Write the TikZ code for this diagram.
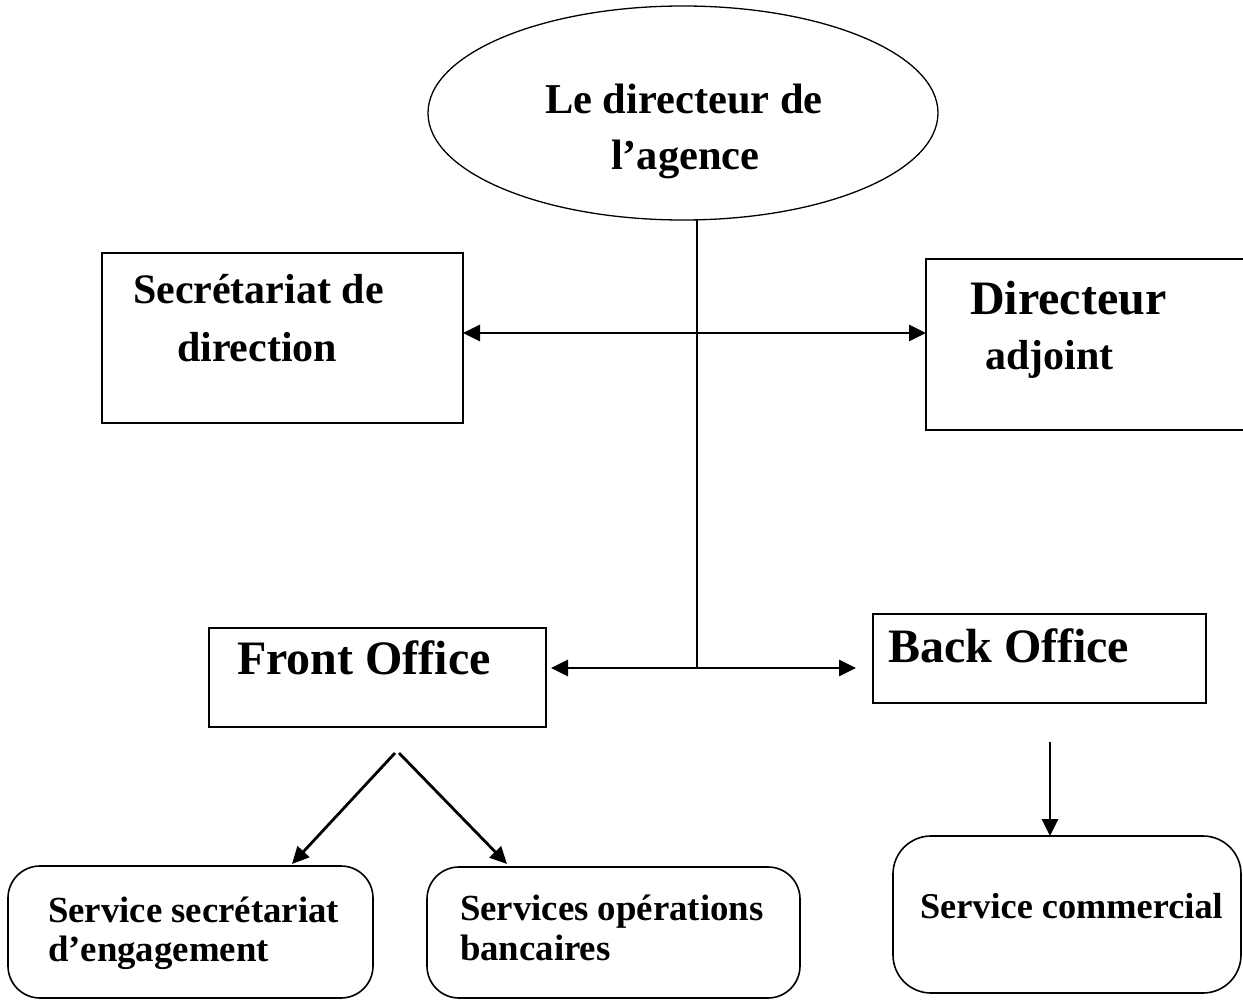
\documentclass[tikz,border=0pt]{standalone}
\usepackage{fontspec}
\setmainfont{Liberation Serif}
\usetikzlibrary{arrows.meta,shapes.geometric,calc}
\begin{document}
\begin{tikzpicture}[x=1pt,y=-1pt,
  frame/.style={draw,line width=1.6pt,inner sep=0pt,outer sep=0pt},
  rbox/.style={frame,rounded corners=32pt},
  lbl/.style={anchor=base west,inner sep=0pt,outer sep=0pt,font=\bfseries},
  big/.style={lbl,font=\bfseries\fontsize{48}{56}\selectfont},
  mid/.style={lbl,font=\bfseries\fontsize{42}{56}\selectfont},
  small/.style={lbl,font=\bfseries\fontsize{36.8}{44}\selectfont},
  conn/.style={line width=2pt},
  tip/.style={line width=2.8pt,-{Triangle[length=17pt,width=16pt]}},
  dtip/.style={line width=2.8pt,{Triangle[length=17pt,width=16pt]}-{Triangle[length=17pt,width=16pt]}}
]
\clip (0,0) rectangle (1243,1000);
\fill[white] (0,0) rectangle (1243,1000);

% Head of the agency
\node[ellipse,frame,line width=1.3pt,minimum width=510pt,minimum height=214pt] (dir) at (683,113) {};
\node[mid,font=\bfseries\fontsize{42.5}{56}\selectfont] (dirA) at (545,114) {Le directeur de};
\node[mid,font=\bfseries\fontsize{42.5}{56}\selectfont] (dirB) at (611,170) {l’agence};

% Second level
\node[frame,minimum width=361pt,minimum height=170pt] (sec) at (282.5,338) {};
\node[mid] (secA) at (133,304) {Secrétariat de};
\node[mid] (secB) at (177,362) {direction};

\node[frame,minimum width=334pt,minimum height=171pt] (adj) at (1093,344.5) {};
\node[big] (adjA) at (970,315) {Directeur};
\node[mid] (adjB) at (985,370) {adjoint};

% Offices
\node[frame,minimum width=337pt,minimum height=99pt] (front) at (377.5,677.5) {};
\node[big] (frontA) at (237,674) {Front Office};

\node[frame,minimum width=333pt,minimum height=89pt] (back) at (1039.5,658.5) {};
\node[big] (backA) at (888,662) {Back Office};

% Services
\node[rbox,minimum width=365pt,minimum height=132pt] (ssec) at (190.5,932) {};
\node[small] (ssecA) at (48,922) {Service secrétariat};
\node[small] (ssecB) at (48,961) {d’engagement};

\node[rbox,minimum width=373pt,minimum height=131pt] (sop) at (613.5,932.5) {};
\node[small] (sopA) at (460,920) {Services opérations};
\node[small] (sopB) at (460,960) {bancaires};

\node[rbox,rounded corners=38pt,minimum width=348pt,minimum height=157pt] (com) at (1067,914.5) {};
\node[small,font=\bfseries\fontsize{36.3}{44}\selectfont] (comA) at (920,918) {Service commercial};

% Connectors
\coordinate (j1) at (697,333);
\coordinate (j2) at (697,668);
\draw[conn] (dir.south -| j1) -- (j2);
\draw[dtip] (sec.east |- j1) -- (adj.west |- j1);
\draw[dtip] ($(front.east |- j2)+(5,0)$) -- ($(back.west |- j2)+(-17,0)$);

\coordinate (fsL) at (395,753);
\coordinate (fsR) at (399,753);
\coordinate (t1) at (292,864);
\coordinate (t2) at (507,864);
\draw[tip] (fsL) -- (t1);
\draw[tip] (fsR) -- (t2);

\coordinate (bs) at (1050,742);
\draw[tip] (bs) -- (bs |- com.north);
\end{tikzpicture}
\end{document}
